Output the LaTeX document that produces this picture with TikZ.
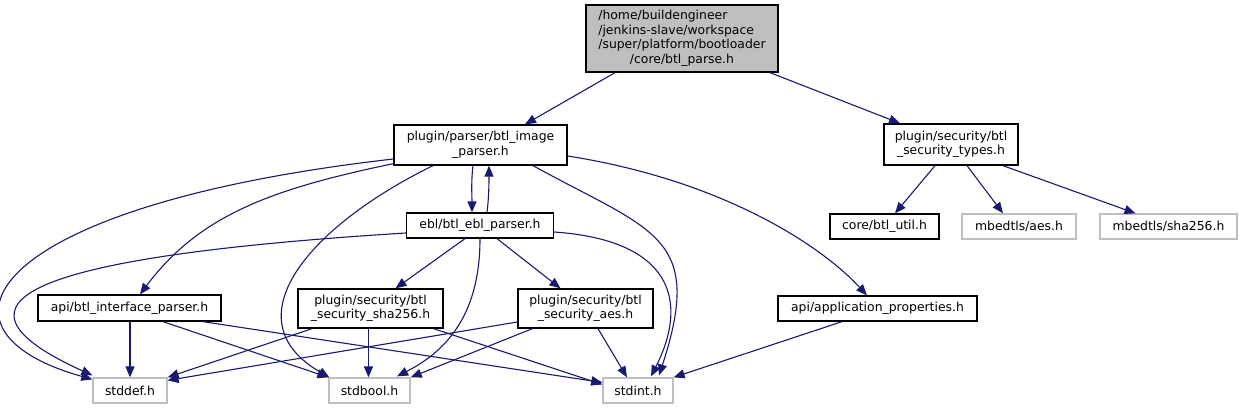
\documentclass[tikz,border=0pt]{standalone}
\usepackage{fontspec}
\setmainfont{DejaVu Sans}
\usepackage{xcolor}
\usepackage{tikz}
\usetikzlibrary{arrows.meta}
\definecolor{edgeblue}{RGB}{25,25,112}
\definecolor{boxgray}{RGB}{191,191,191}

\begin{document}
\begin{tikzpicture}[x=1pt, y=-1pt,
    file/.style={draw=black, line width=1.3pt, fill=white, inner sep=0pt, align=center,
      font=\fontsize{12.4}{14.5}\selectfont},
    ext/.style={file, draw=boxgray},
    dep/.style={edgeblue, line width=1.1pt, -{Triangle[length=11pt,width=9pt]}}]
    \useasboundingbox (0,0) rectangle (1243,409);

    % File radice (grigio)
    \node[file, fill=boxgray, minimum width=192, minimum height=67] (root) at (682,38.5)
      {\begin{tabular}{@{}l@{}}/home/buildengineer\\/jenkins-slave/workspace\\/super/platform/bootloader\\
       \multicolumn{1}{@{}c@{}}{/core/btl\_parse.h}\end{tabular}};

    % Header del progetto
    \node[file, minimum width=173, minimum height=40] (imgparser) at (480.5,145) {plugin/parser/btl\_image\\\_parser.h};
    \node[file, minimum width=134, minimum height=41] (sectypes) at (951,144.5) {plugin/security/btl\\\_security\_types.h};
    \node[file, minimum width=147, minimum height=25] (eblparser) at (480,225.5) {ebl/btl\_ebl\_parser.h};
    \node[file, minimum width=109, minimum height=25] (btlutil) at (884.5,226.5) {core/btl\_util.h};
    \node[file, minimum width=183, minimum height=26] (ifparser) at (129.5,308) {api/btl\_interface\_parser.h};
    \node[file, minimum width=145, minimum height=39] (secsha) at (370.5,308.5) {plugin/security/btl\\\_security\_sha256.h};
    \node[file, minimum width=135, minimum height=39] (secaes) at (585.5,308.5) {plugin/security/btl\\\_security\_aes.h};
    \node[file, minimum width=199, minimum height=25] (appprops) at (877.5,308.5) {api/application\_properties.h};

    % Header esterni (bordo grigio)
    \node[ext, minimum width=114, minimum height=25] (mbaes) at (1019,226.5) {mbedtls/aes.h};
    \node[ext, minimum width=137, minimum height=25] (mbsha) at (1168.5,226.5) {mbedtls/sha256.h};
    \node[ext, minimum width=74, minimum height=25] (stddef) at (130,390.5) {stddef.h};
    \node[ext, minimum width=81, minimum height=25] (stdbool) at (369.5,390.5) {stdbool.h};
    \node[ext, minimum width=70, minimum height=25] (stdint) at (638,390.5) {stdint.h};

    % Include della radice
    \draw[dep] ([xshift=-67pt]root.south) -- ([xshift=44.5pt]imgparser.north);
    \draw[dep] ([xshift=88pt]root.south) -- ([xshift=-51pt]sectypes.north);

    % Include di btl_image_parser.h
    \draw[dep] ([xshift=-7.5pt]imgparser.south) .. controls +(-2,16) and +(0,-16) .. ([xshift=-8pt]eblparser.north);
    \draw[dep] ([yshift=-14pt]imgparser.west) .. controls +(-404,46) and +(-178,-50) .. ([yshift=-2pt]stddef.north west);
    \draw[dep] ([yshift=2pt]imgparser.south west) .. controls +(-120,25) and +(60,-80) .. ([xshift=10.5pt]ifparser.north);
    \draw[dep] ([xshift=-47.5pt]imgparser.south) .. controls +(-123,60) and +(-100,-58) .. ([xshift=1pt]stdbool.north west);
    \draw[dep] ([xshift=52.5pt]imgparser.south) .. controls +(120,66) and +(46,-140) .. ([xshift=21pt,yshift=2pt]stdint.north);
    \draw[dep] ([yshift=-11pt]imgparser.east) .. controls +(153,24) and +(-47,-51) .. ([xshift=-10.5pt]appprops.north);

    % Include di btl_ebl_parser.h
    \draw[dep] ([xshift=7pt]eblparser.north) .. controls +(2,-16) and +(0,16) .. ([xshift=8.5pt]imgparser.south);
    \draw[dep] ([yshift=-7.5pt]eblparser.west) .. controls +(-370,23) and +(-165,-75) .. ([yshift=2pt]stddef.north west);
    \draw[dep] ([xshift=-15pt]eblparser.south) -- ([xshift=25pt]secsha.north);
    \draw[dep] ([xshift=17pt]eblparser.south) -- ([xshift=-25pt]secaes.north);
    \draw[dep] (eblparser.south) .. controls +(0,72) and +(53,-27) .. ([xshift=27.5pt,yshift=1pt]stdbool.north);
    \draw[dep] ([yshift=-6.5pt]eblparser.east) .. controls +(116,8) and +(39,-77) .. ([xshift=13pt,yshift=1pt]stdint.north);

    % Include di btl_security_types.h
    \draw[dep] ([xshift=-16pt]sectypes.south) -- ([xshift=10.5pt]btlutil.north);
    \draw[dep] ([xshift=16pt]sectypes.south) -- ([xshift=-16pt]mbaes.north);
    \draw[dep] ([xshift=52pt]sectypes.south) -- ([xshift=-33pt]mbsha.north);

    % Header di livello basso verso la libc
    \draw[dep] ([xshift=0.5pt]ifparser.south) -- (stddef.north);
    \draw[dep] ([xshift=33.5pt]ifparser.south) -- (stdbool.north west);
    \draw[dep] ([xshift=73.5pt]ifparser.south) -- ([yshift=8pt]stdint.west);
    \draw[dep] ([xshift=-58.5pt]secsha.south) -- (stddef.north east);
    \draw[dep] ([xshift=-2pt]secsha.south) -- ([xshift=-1pt]stdbool.north);
    \draw[dep] ([xshift=-10pt]secsha.south east) -- ([yshift=6pt]stdint.west);
    \draw[dep] ([yshift=-13.5pt]secaes.west) -- ([yshift=-3pt]stddef.north east);
    \draw[dep] ([xshift=15pt]secaes.south west) -- (stdbool.north east);
    \draw[dep] ([xshift=12.5pt]secaes.south) -- ([xshift=-11pt]stdint.north);
    \draw[dep] ([xshift=-35.5pt]appprops.south) -- (stdint.north east);

\end{tikzpicture}
\end{document}
